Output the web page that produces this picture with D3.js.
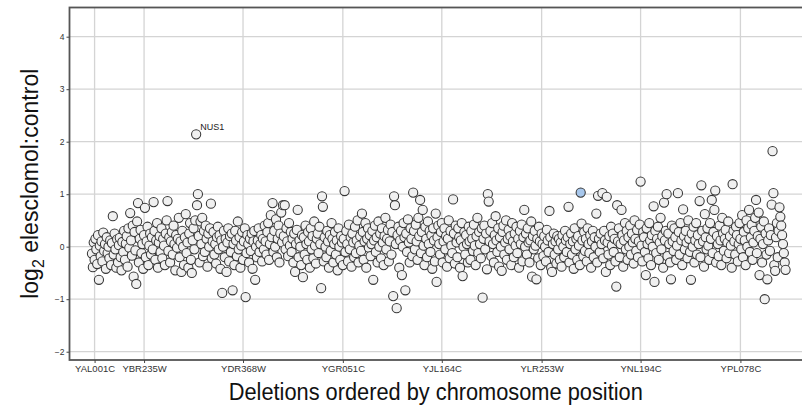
<!DOCTYPE html>
<html>
<head>
<meta charset="utf-8">
<script src="https://cdn.jsdelivr.net/npm/d3@7"></script>
<style>
  body { margin: 0; background: #fff; }
  text { font-family: 'Liberation Sans', Arial, sans-serif; }
</style>
</head>
<body>
<div id="chart"></div>
<script>
// log2 elesclomol:control, one value per deletion strain, in chromosome order
let ratios = [
  -0.13, -0.39, 0.08, -0.25, 0.15, -0.05, -0.33, 0.22, -0.63, 0.02,
  -0.18, 0.10, -0.28, 0.27, -0.08, 0.05, -0.42, 0.18, -0.12, 0.00,
  -0.22, 0.12, -0.35, 0.07, 0.58, -0.15, 0.25, -0.05, -0.40, 0.14,
  -0.30, 0.03, 0.17, -0.20, -0.45, 0.09, -0.10, 0.30, -0.25, 0.06,
  0.20, -0.38, 0.35, -0.02, 0.64, 0.12, -0.17, 0.40, -0.57, 0.28,
  -0.07, -0.71, 0.48, 0.83, -0.30, 0.15, 0.32, -0.12, 0.05, -0.42,
  0.22, 0.74, -0.20, 0.10, 0.38, -0.35, 0.02, 0.25, -0.15, 0.18,
  -0.05, 0.85, 0.30, -0.25, 0.12, 0.45, -0.40, 0.08, 0.20, -0.10,
  0.35, -0.22, 0.15, 0.02, -0.35, 0.25, 0.50, 0.87, -0.08, 0.18,
  -0.30, 0.10, 0.28, -0.15, 0.40, 0.05, -0.45, 0.22, -0.02, 0.15,
  0.55, -0.20, 0.10, -0.48, 0.30, 0.00, -0.35, 0.18, 0.62, -0.12,
  0.08, -0.40, 0.25, 0.45, -0.25, -0.50, 0.12, 0.35, -0.05, 0.50,
  2.14, 0.79, 1.00, 0.20, -0.30, 0.48, 0.05, 0.55, -0.18, 0.30,
  -0.10, 0.40, 0.15, -0.38, 0.25, 0.00, 0.35, 0.82, -0.22, 0.10,
  0.28, -0.15, 0.05, -0.32, 0.18, 0.38, -0.05, 0.22, -0.42, 0.12,
  -0.88, 0.00, 0.30, -0.20, 0.15, -0.48, 0.08, 0.35, -0.28, 0.20,
  -0.10, 0.25, -0.83, 0.05, -0.35, 0.30, 0.12, -0.18, 0.48, -0.05,
  0.18, -0.40, 0.02, 0.28, -0.25, 0.10, 0.35, -0.96, -0.12, 0.22,
  0.05, -0.30, 0.15, -0.08, 0.25, -0.42, 0.10, 0.30, -0.63, 0.00,
  -0.20, 0.12, 0.35, -0.10, 0.05, 0.22, -0.28, 0.15, -0.05, 0.40,
  0.10, -0.15, 0.28, 0.45, -0.25, 0.05, 0.60, 0.18, 0.83, -0.10,
  0.30, 0.00, 0.52, -0.20, 0.15, 0.40, -0.30, 0.25, 0.65, 0.08,
  0.79, 0.20, 0.79, -0.05, 0.35, 0.10, -0.18, 0.45, 0.02, 0.28,
  -0.10, 0.15, -0.30, 0.25, -0.48, 0.05, 0.32, 0.70, -0.20, 0.12,
  0.00, -0.35, 0.22, -0.58, 0.18, -0.15, 0.40, 0.05, -0.25, 0.28,
  0.10, -0.40, 0.35, -0.05, 0.20, -0.22, 0.48, 0.02, -0.32, 0.15,
  0.25, -0.12, 0.38, 0.05, -0.79, 0.96, 0.76, -0.28, 0.18, 0.00,
  -0.20, 0.30, 0.10, -0.40, 0.22, -0.08, 0.45, 0.15, -0.30, 0.05,
  0.28, -0.15, 0.12, -0.45, 0.35, 0.00, -0.25, 0.20, 0.08, -0.35,
  0.15, 1.06, -0.10, 0.30, 0.05, -0.28, 0.42, -0.05, 0.18, -0.38,
  0.25, 0.08, -0.20, 0.38, -0.12, 0.12, 0.50, -0.30, 0.02, 0.20,
  -0.08, 0.63, 0.28, -0.25, 0.10, 0.45, -0.40, 0.15, 0.35, -0.02,
  0.22, -0.18, 0.05, 0.30, -0.63, 0.12, 0.40, -0.10, 0.18, -0.30,
  0.48, 0.00, 0.25, -0.22, 0.35, 0.08, -0.35, 0.20, 0.55, -0.05,
  0.15, 0.32, -0.28, 0.10, 0.42, -0.15, 0.28, -0.94, 0.96, 0.79,
  0.05, -1.17, 0.22, 0.38, -0.40, 0.12, 0.30, -0.54, 0.00, 0.45,
  0.18, -0.83, 0.25, -0.10, 0.52, 0.08, -0.30, 0.35, 0.15, -0.18,
  1.03, 0.30, -0.05, 0.42, 0.10, -0.25, 0.55, 0.20, 0.89, -0.12,
  0.28, 0.70, 0.02, -0.35, 0.38, 0.15, -0.20, 0.48, 0.05, 0.30,
  -0.10, 0.22, -0.42, 0.35, 0.12, -0.28, 0.63, -0.67, 0.18, 0.40,
  0.05, -0.15, 0.28, 0.45, -0.30, 0.10, 0.35, -0.05, 0.20, -0.38,
  0.15, 0.50, -0.22, 0.30, 0.02, -0.12, 0.90, 0.25, -0.32, 0.40,
  0.08, -0.20, 0.35, 0.18, -0.40, 0.12, 0.45, -0.56, 0.00, 0.28,
  -0.15, 0.22, 0.05, -0.30, 0.38, 0.10, -0.25, 0.30, 0.15, -0.08,
  0.42, 0.02, -0.35, 0.20, 0.55, -0.12, 0.28, 0.05, -0.22, 0.35,
  -0.97, 0.15, 0.40, -0.05, 0.25, -0.43, 1.00, 0.86, 0.10, 0.30,
  -0.18, 0.45, 0.05, -0.30, 0.22, 0.58, 0.12, -0.10, 0.35, -0.38,
  0.18, 0.00, -0.46, 0.28, 0.40, -0.15, 0.08, 0.50, -0.25, 0.15,
  0.32, -0.05, 0.20, -0.35, 0.45, 0.10, -0.20, 0.25, 0.02, 0.38,
  -0.12, 0.15, -0.40, 0.30, 0.05, 0.42, -0.28, 0.18, 0.70, 0.00,
  0.25, -0.15, 0.35, 0.08, -0.30, 0.12, 0.48, -0.57, 0.20, -0.05,
  0.30, 0.02, -0.62, 0.15, -0.22, 0.38, 0.10, -0.35, 0.25, 0.05,
  -0.18, 0.20, 0.00, -0.28, 0.32, 0.12, -0.10, 0.68, 0.18, -0.40,
  -0.48, 0.05, 0.25, -0.15, 0.10, -0.32, 0.20, -0.05, 0.15, -0.25,
  0.08, -0.38, 0.22, 0.00, -0.20, 0.30, 0.12, -0.10, 0.18, 0.76,
  -0.30, 0.05, 0.25, -0.15, 0.10, -0.42, 0.35, -0.05, 0.15, -0.25,
  0.20, 0.02, -0.35, 1.03, 0.44, 0.12, -0.18, 0.28, -0.08, 0.15,
  -0.28, 0.35, 0.05, -0.12, 0.22, -0.40, 0.10, 0.30, -0.20, 0.18,
  0.00, 0.63, -0.30, 0.97, 0.15, -0.10, 0.25, 0.05, 1.02, -0.22,
  0.30, 0.12, -0.48, 0.95, 0.08, -0.15, 0.20, -0.35, 0.38, 0.02,
  0.25, -0.10, 0.15, -0.28, -0.76, 0.79, 0.10, 0.35, -0.20, 0.05,
  0.70, 0.22, -0.38, 0.12, 0.45, -0.05, 0.30, -0.25, 0.18, 0.00,
  0.40, -0.15, 0.25, 0.08, -0.32, 0.50, 0.15, -0.08, 0.32, -0.20,
  0.10, 0.42, 1.24, 0.02, -0.28, 0.28, 0.18, -0.10, -0.54, 0.35,
  0.05, -0.22, 0.45, 0.12, -0.35, 0.22, 0.00, 0.77, -0.67, 0.30,
  -0.12, 0.15, 0.38, -0.25, 0.08, 0.55, -0.05, 0.20, -0.40, 0.84,
  0.12, 0.30, 1.00, -0.18, 0.25, 0.05, -0.30, -0.62, 0.40, 0.10,
  -0.08, 0.35, 0.18, -0.25, 0.02, 1.02, 0.28, -0.15, 0.45, 0.12,
  -0.35, 0.71, 0.20, -0.05, 0.30, 0.08, -0.22, 0.50, 0.15, -0.10,
  -0.63, 0.25, 0.00, 0.38, -0.30, 0.12, 0.45, -0.15, 0.22, 0.05,
  0.87, -0.20, 1.17, 0.30, 0.10, -0.38, 0.62, 0.18, -0.05, 0.35,
  0.02, -0.25, 0.45, 0.15, 0.89, -0.12, 0.28, 0.70, 1.07, -0.30,
  0.20, 0.05, -0.18, 0.40, 0.12, -0.35, 0.55, 0.25, -0.08, 0.15,
  0.32, -0.22, 0.08, 0.48, -0.12, 0.20, 0.02, -0.40, 1.19, 0.30,
  0.10, -0.15, 0.38, 0.22, -0.28, 0.05, 0.45, 0.15, -0.05, 0.60,
  -0.20, 0.28, 0.12, -0.35, 0.50, 0.00, 0.35, 0.70, -0.10, 0.18,
  0.42, -0.25, 0.08, 0.30, 0.55, 0.89, -0.12, 0.20, 0.65, -0.54,
  0.15, 0.38, -0.30, 0.05, 0.48, -1.00, 0.25, -0.15, -0.62, 0.12,
  0.35, -0.08, 0.22, 0.80, 1.82, 1.02, -0.35, -0.46, 0.18, 0.45,
  -0.20, 0.30, 0.75, 0.57, 0.40, 0.22, 0.05, -0.12, -0.30, -0.44
]

let tickGenes = ['YAL001C', 'YBR235W', 'YDR368W', 'YGR051C', 'YJL164C', 'YLR253W', 'YNL194C', 'YPL078C']
let tickIndex = [3, 60, 174, 289, 403, 518, 632, 747]
let yTicks = [-2, -1, 0, 1, 2, 3, 4]

let labelled = [{ index: 120, name: 'NUS1' }]
let highlighted = [563]

let width = 802
let height = 406
let panel = { left: 69.5, top: 7.5, right: 805, bottom: 360 }
let narrow = "'Liberation Sans Narrow', 'Arial Narrow', 'Liberation Sans', sans-serif"

let svg = d3
  .select('#chart')
  .append('svg')
  .attr('width', width)
  .attr('height', height)

let xScale = d3.scaleLinear().domain([-25.9, 821.4]).range([panel.left, panel.right])
let yScale = d3.scaleLinear().domain([-2.158, 4.556]).range([panel.bottom, panel.top])

// grid
svg
  .append('g')
  .selectAll('.hgrid')
  .data(yTicks)
  .enter()
  .append('line')
  .attr('x1', panel.left)
  .attr('x2', panel.right)
  .attr('y1', d => yScale(d))
  .attr('y2', d => yScale(d))
  .attr('stroke', '#d4d4d4')
  .attr('stroke-width', 1.3)

svg
  .append('g')
  .selectAll('.vgrid')
  .data(tickIndex)
  .enter()
  .append('line')
  .attr('x1', d => xScale(d))
  .attr('x2', d => xScale(d))
  .attr('y1', panel.top)
  .attr('y2', panel.bottom)
  .attr('stroke', '#d4d4d4')
  .attr('stroke-width', 1.3)

// points
svg
  .append('g')
  .selectAll('.strain')
  .data(ratios)
  .enter()
  .append('circle')
  .attr('class', 'strain')
  .attr('cx', (d, i) => xScale(i))
  .attr('cy', d => yScale(d))
  .attr('r', 4.6)
  .attr('fill', (d, i) => (highlighted.indexOf(i) !== -1 ? '#a7c7ec' : '#f0f0f0'))
  .attr('stroke', '#363636')
  .attr('stroke-width', 1.05)

svg
  .selectAll('.gene-label')
  .data(labelled)
  .enter()
  .append('text')
  .attr('x', d => xScale(d.index) + 4)
  .attr('y', d => yScale(ratios[d.index]) - 4)
  .attr('font-size', 9)
  .attr('fill', '#222')
  .attr('font-family', narrow)
  .text(d => d.name)

// panel border
svg
  .append('rect')
  .attr('x', panel.left)
  .attr('y', panel.top)
  .attr('width', panel.right - panel.left)
  .attr('height', panel.bottom - panel.top)
  .attr('fill', 'none')
  .attr('stroke', '#555')
  .attr('stroke-width', 1.8)

// axes
let yAxis = d3
  .axisLeft(yScale)
  .tickValues(yTicks)
  .tickFormat(d3.format('d'))
  .tickSize(3)
  .tickPadding(2)
let yG = svg.append('g').attr('transform', `translate(${panel.left},0)`).call(yAxis)
yG.select('.domain').remove()
yG.selectAll('line').attr('stroke', '#444')
yG.selectAll('text').attr('font-size', 8.5).attr('fill', '#333').attr('font-family', narrow)

let xAxis = d3
  .axisBottom(xScale)
  .tickValues(tickIndex)
  .tickFormat((d, i) => tickGenes[i])
  .tickSize(3)
  .tickPadding(2.5)
let xG = svg.append('g').attr('transform', `translate(0,${panel.bottom})`).call(xAxis)
xG.select('.domain').remove()
xG.selectAll('line').attr('stroke', '#444')
xG.selectAll('text').attr('font-size', 9.5).attr('fill', '#333').attr('font-family', narrow)

// titles
svg
  .append('text')
  .attr('x', (panel.left + 802) / 2)
  .attr('y', 400)
  .attr('text-anchor', 'middle')
  .attr('font-size', 23)
  .attr('textLength', 414)
  .attr('lengthAdjust', 'spacingAndGlyphs')
  .attr('fill', '#111')
  .text('Deletions ordered by chromosome position')

let yTitle = svg
  .append('text')
  .attr('transform', `translate(38,${(panel.top + panel.bottom) / 2}) rotate(-90)`)
  .attr('text-anchor', 'middle')
  .attr('font-size', 23)
  .attr('fill', '#111')
yTitle.append('tspan').text('log')
yTitle.append('tspan').attr('font-size', 16).attr('dy', 6).text('2')
yTitle.append('tspan').attr('dy', -6).text(' elesclomol:control')
</script>
</body>
</html>
